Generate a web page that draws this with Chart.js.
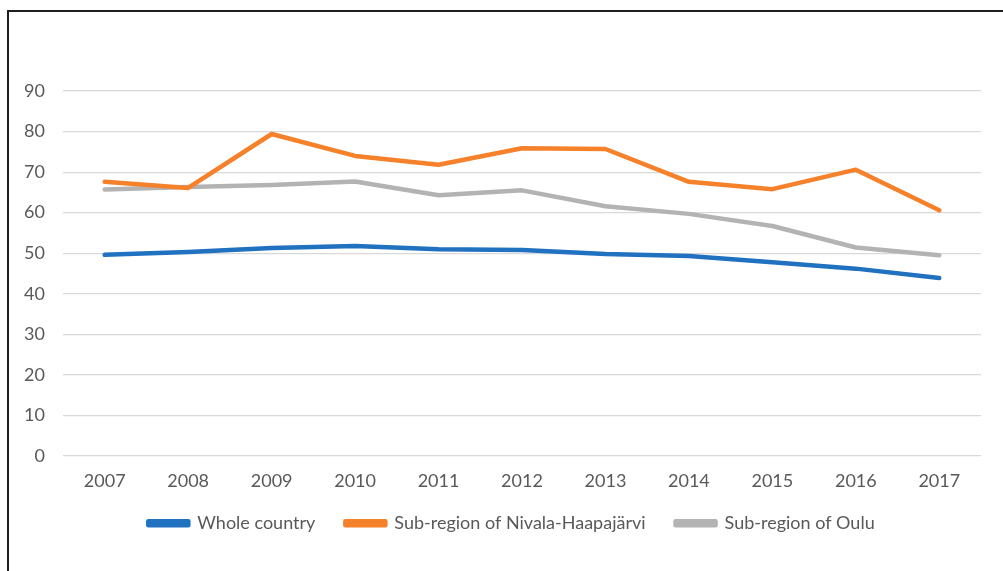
<!DOCTYPE html>
<html>
<head>
<meta charset="utf-8">
<script src="https://cdn.jsdelivr.net/npm/chart.js@4.4.0/dist/chart.umd.min.js"></script>
<style>
  html, body { margin: 0; padding: 0; background: #fff; }
  #wrap { position: relative; width: 1003px; height: 571px; overflow: hidden; }
  #frame { position: absolute; left: 7px; top: 10px; width: 1010px; height: 580px;
           border-left: 2px solid #1e1e1e; border-top: 2px solid #1e1e1e; pointer-events: none; }
  canvas { position: absolute; left: 0; top: 0; }
</style>
</head>
<body>
<div id="wrap">
  <canvas id="c" width="1003" height="571"></canvas>
  <div id="frame"></div>
</div>
<script>
const years = ['2007','2008','2009','2010','2011','2012','2013','2014','2015','2016','2017'];
const wholeCountry = [49.6, 50.3, 51.3, 51.8, 51.0, 50.8, 49.8, 49.3, 47.8, 46.2, 43.9];
const nivalaHaapajarvi = [67.6, 66.1, 79.4, 74.0, 71.8, 75.9, 75.7, 67.6, 65.8, 70.6, 60.6];
const oulu = [65.7, 66.3, 66.8, 67.7, 64.3, 65.5, 61.6, 59.7, 56.7, 51.4, 49.5];
const seriesNames = ['Whole country', 'Sub-region of Nivala-Haapajärvi', 'Sub-region of Oulu'];
const seriesColors = ['#2171c1', '#f5812b', '#b3b3b3'];

const font = { family: 'Lato', size: 18 };
const tickColor = '#595959';

function ds(name, data, color) {
  return { label: name, data: data, borderColor: color, backgroundColor: color,
           borderWidth: 4.5, pointRadius: 0, pointHoverRadius: 0, tension: 0,
           borderCapStyle: 'round', borderJoinStyle: 'round', fill: false };
}

const legendShift = {
  id: 'legendShift',
  afterLayout(chart) {
    const lg = chart.legend;
    if (!lg) return;
    const dy = lg.top + 32 + 10.8 - 527;
    lg.top -= dy; lg.bottom -= dy;
    lg.left += 21; lg.right += 21;
  }
};

new Chart(document.getElementById('c'), {
  type: 'line',
  data: {
    labels: years,
    datasets: [
      ds(seriesNames[0], wholeCountry, seriesColors[0]),
      ds(seriesNames[1], nivalaHaapajarvi, seriesColors[1]),
      ds(seriesNames[2], oulu, seriesColors[2])
    ]
  },
  plugins: [legendShift],
  options: {
    responsive: false,
    animation: false,
    layout: { padding: { left: 0, right: 22, top: 91, bottom: 8 } },
    plugins: {
      tooltip: { enabled: false },
      legend: {
        position: 'bottom',
        labels: { font: font, color: tickColor, boxWidth: 40, boxHeight: 4, padding: 30 }
      }
    },
    scales: {
      x: {
        offset: true,
        grid: { display: false, drawTicks: false },
        border: { display: false },
        ticks: { font: font, color: tickColor, padding: 14, maxRotation: 0 },
        afterFit: function (s) { s.height = 49; }
      },
      y: {
        min: 0, max: 90,
        grid: { color: '#d9d9d9', lineWidth: 1.2, drawTicks: false },
        border: { display: false },
        ticks: { font: font, color: tickColor, stepSize: 10, padding: 18 },
        afterFit: function (s) { s.width = 63; }
      }
    }
  }
});
</script>
</body>
</html>
